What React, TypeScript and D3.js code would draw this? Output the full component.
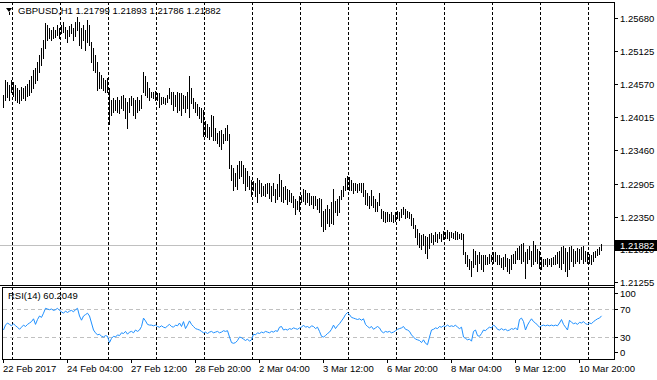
import React from "react";
import * as d3 from "d3";

const symbolName = "GBPUSD,H1";
const lastOHLC = [1.21799, 1.21893, 1.21786, 1.21882];

const highs = [
  1.2439,1.2464,1.2461,1.2456,1.2464,1.2461,1.2456,1.2450,1.2447,1.2452,
  1.2450,1.2454,1.2457,1.2464,1.2471,1.2481,1.2484,1.2494,1.2506,1.2518,
  1.2531,1.2560,1.2556,1.2551,1.2548,1.2553,1.2548,1.2556,1.2551,1.2556,
  1.2561,1.2553,1.2548,1.2555,1.2558,1.2551,1.2561,1.2570,1.2561,1.2551,
  1.2556,1.2548,1.2565,1.2556,1.2528,1.2518,1.2506,1.2494,1.2477,1.2472,
  1.2467,1.2464,1.2467,1.2450,1.2430,1.2434,1.2430,1.2435,1.2430,1.2437,
  1.2439,1.2434,1.2427,1.2434,1.2437,1.2434,1.2430,1.2435,1.2430,1.2439,
  1.2477,1.2471,1.2461,1.2450,1.2444,1.2444,1.2445,1.2442,1.2442,1.2435,
  1.2435,1.2434,1.2439,1.2450,1.2444,1.2444,1.2439,1.2444,1.2442,1.2442,
  1.2439,1.2437,1.2444,1.2471,1.2450,1.2434,1.2427,1.2424,1.2418,1.2417,
  1.2413,1.2396,1.2390,1.2386,1.2405,1.2403,1.2383,1.2376,1.2378,1.2380,
  1.2374,1.2383,1.2388,1.2374,1.2321,1.2316,1.2309,1.2321,1.2329,1.2328,
  1.2321,1.2316,1.2312,1.2304,1.2296,1.2294,1.2291,1.2299,1.2296,1.2291,
  1.2287,1.2289,1.2292,1.2291,1.2286,1.2291,1.2282,1.2289,1.2307,1.2296,
  1.2284,1.2287,1.2282,1.2279,1.2275,1.2269,1.2265,1.2262,1.2270,1.2272,
  1.2282,1.2279,1.2275,1.2274,1.2270,1.2269,1.2270,1.2265,1.2267,1.2265,
  1.2245,1.2248,1.2254,1.2248,1.2259,1.2281,1.2262,1.2265,1.2270,1.2279,
  1.2286,1.2299,1.2303,1.2301,1.2296,1.2292,1.2291,1.2289,1.2291,1.2292,
  1.2292,1.2279,1.2275,1.2270,1.2279,1.2270,1.2264,1.2260,1.2274,1.2248,
  1.2245,1.2242,1.2242,1.2240,1.2242,1.2238,1.2242,1.2245,1.2243,1.2248,
  1.2252,1.2248,1.2245,1.2242,1.2240,1.2233,1.2221,1.2215,1.2208,1.2204,
  1.2206,1.2203,1.2201,1.2206,1.2208,1.2204,1.2209,1.2206,1.2209,1.2206,
  1.2211,1.2209,1.2213,1.2209,1.2209,1.2208,1.2211,1.2209,1.2206,1.2208,
  1.2206,1.2175,1.2171,1.2164,1.2161,1.2181,1.2178,1.2171,1.2175,1.2171,
  1.2170,1.2171,1.2168,1.2173,1.2171,1.2176,1.2175,1.2171,1.2170,1.2166,
  1.2168,1.2173,1.2166,1.2164,1.2171,1.2173,1.2178,1.2183,1.2186,1.2190,
  1.2191,1.2175,1.2181,1.2186,1.2178,1.2195,1.2188,1.2181,1.2178,1.2168,
  1.2164,1.2164,1.2166,1.2164,1.2166,1.2168,1.2170,1.2175,1.2178,1.2185,
  1.2186,1.2183,1.2175,1.2185,1.2186,1.2181,1.2178,1.2183,1.2180,1.2185,
  1.2186,1.2178,1.2175,1.2173,1.2171,1.2175,1.2178,1.2181,1.2185,1.21893,
];

const lows = [
  1.2419,1.2430,1.2435,1.2430,1.2444,1.2437,1.2430,1.2427,1.2425,1.2430,
  1.2434,1.2430,1.2437,1.2439,1.2444,1.2451,1.2459,1.2464,1.2477,1.2489,
  1.2501,1.2518,1.2531,1.2534,1.2531,1.2534,1.2536,1.2539,1.2534,1.2543,
  1.2544,1.2534,1.2528,1.2538,1.2543,1.2531,1.2538,1.2548,1.2523,1.2518,
  1.2531,1.2514,1.2528,1.2523,1.2494,1.2481,1.2477,1.2447,1.2451,1.2451,
  1.2447,1.2444,1.2444,1.2391,1.2405,1.2410,1.2413,1.2410,1.2408,1.2417,
  1.2413,1.2400,1.2383,1.2410,1.2422,1.2405,1.2401,1.2410,1.2413,1.2417,
  1.2444,1.2439,1.2435,1.2430,1.2435,1.2434,1.2430,1.2430,1.2418,1.2424,
  1.2425,1.2424,1.2427,1.2434,1.2424,1.2413,1.2420,1.2410,1.2413,1.2406,
  1.2417,1.2410,1.2417,1.2402,1.2425,1.2417,1.2410,1.2405,1.2400,1.2393,
  1.2371,1.2371,1.2369,1.2366,1.2371,1.2363,1.2363,1.2359,1.2354,1.2349,
  1.2359,1.2363,1.2363,1.2316,1.2296,1.2279,1.2287,1.2282,1.2299,1.2304,
  1.2292,1.2279,1.2287,1.2282,1.2270,1.2279,1.2270,1.2259,1.2275,1.2270,
  1.2272,1.2269,1.2275,1.2267,1.2262,1.2272,1.2259,1.2264,1.2269,1.2262,
  1.2259,1.2265,1.2257,1.2262,1.2259,1.2252,1.2240,1.2248,1.2245,1.2259,
  1.2262,1.2257,1.2259,1.2254,1.2257,1.2250,1.2254,1.2248,1.2242,1.2220,
  1.2211,1.2215,1.2225,1.2220,1.2225,1.2223,1.2242,1.2237,1.2242,1.2265,
  1.2269,1.2279,1.2282,1.2279,1.2279,1.2274,1.2279,1.2277,1.2279,1.2277,
  1.2269,1.2257,1.2254,1.2250,1.2254,1.2252,1.2245,1.2245,1.2254,1.2232,
  1.2228,1.2226,1.2228,1.2227,1.2228,1.2226,1.2228,1.2232,1.2230,1.2235,
  1.2240,1.2233,1.2235,1.2232,1.2221,1.2216,1.2201,1.2190,1.2184,1.2181,
  1.2187,1.2174,1.2166,1.2183,1.2193,1.2190,1.2195,1.2193,1.2199,1.2195,
  1.2197,1.2199,1.2199,1.2196,1.2201,1.2199,1.2197,1.2197,1.2199,1.2197,
  1.2173,1.2158,1.2153,1.2148,1.2136,1.2151,1.2156,1.2144,1.2158,1.2148,
  1.2144,1.2155,1.2156,1.2158,1.2161,1.2158,1.2161,1.2156,1.2155,1.2151,
  1.2148,1.2153,1.2144,1.2141,1.2148,1.2158,1.2158,1.2164,1.2164,1.2158,
  1.2161,1.2133,1.2158,1.2164,1.2153,1.2156,1.2161,1.2158,1.2149,1.2148,
  1.2153,1.2155,1.2153,1.2155,1.2153,1.2156,1.2155,1.2158,1.2151,1.2148,
  1.2158,1.2144,1.2136,1.2148,1.2161,1.2153,1.2158,1.2161,1.2158,1.2164,
  1.2158,1.2161,1.2158,1.2158,1.2156,1.2161,1.2168,1.2170,1.2173,1.21786,
];

const rsiValues = [
  40,47,50,48,46,49,46,44,41,44,
  47,45,48,50,52,56,48,55,60,58,
  64,71,70,69,70,68,69,71,68,66,
  64,67,65,67,68,66,69,71,60,54,
  60,62,64,60,50,40,36,33,34,31,
  30,32,31,22,28,31,30,33,32,36,
  35,38,34,37,38,36,40,38,40,45,
  57,53,48,47,47,46,47,45,44,46,
  44,43,46,48,45,44,47,46,50,45,
  52,42,47,53,48,45,42,41,40,38,
  36,37,35,37,38,36,37,38,36,37,
  39,38,39,30,22,21,22,25,30,29,
  27,25,27,24,26,34,33,36,35,37,
  36,38,37,36,38,37,39,38,44,45,
  40,41,40,42,41,43,42,41,43,44,
  47,44,45,43,46,45,42,44,38,31,
  30,32,35,37,41,47,42,46,49,53,
  57,62,65,62,58,57,56,55,56,54,
  56,48,45,43,45,41,43,45,43,38,
  36,38,37,38,36,37,39,41,42,43,
  45,41,40,38,33,30,27,26,25,22,
  26,21,19,30,40,41,43,42,45,44,
  46,45,47,45,46,45,47,44,42,44,
  30,28,26,27,24,38,40,32,31,35,
  40,39,42,44,43,47,45,41,40,42,
  40,41,39,40,42,41,43,40,55,57,
  52,40,47,52,56,52,50,47,44,46,
  47,46,47,46,47,46,47,46,50,55,
  48,44,40,54,51,49,50,48,51,50,
  52,49,48,50,49,52,54,56,57,60.2049,
];

const priceTicks = [1.2568, 1.25125, 1.2457, 1.24015, 1.2346, 1.22905, 1.2235, 1.2181, 1.21255];
const rsiTicks = [100, 70, 30, 0];
const rsiLevels = [70, 30];
const daySeparatorBars = [4, 28, 52, 76, 100, 124, 148, 172, 196, 220, 244, 268, 292];
const timeLabelBars = [0, 32, 64, 96, 128, 160, 192, 224, 256, 288];
const timeLabels = [
  "22 Feb 2017", "24 Feb 04:00", "27 Feb 12:00", "28 Feb 20:00", "2 Mar 04:00",
  "3 Mar 12:00", "6 Mar 20:00", "8 Mar 04:00", "9 Mar 12:00", "10 Mar 20:00",
];

const W = 657;
const H = 380;
const FONT = "'Liberation Sans', Arial, sans-serif";
const FS = 9.5;

export default function App() {
  const n = highs.length;
  const axisX = 614;
  const mainTop = 2;
  const mainBottom = 285;
  const rsiTop = 287;
  const rsiBottom = 359;

  const x = d3.scaleLinear().domain([0, n - 1]).range([3, 3 + 2 * (n - 1)]);
  const y = d3.scaleLinear().domain([1.21255, 1.2568]).range([282, 18]);
  const yr = d3.scaleLinear().domain([0, 100]).range([358, 288]);

  const rsiLine = d3
    .line<number>()
    .x((_, i) => x(i) + 0.5)
    .y((d) => yr(d));

  const fmt = d3.format(".5f");
  const close = lastOHLC[3];
  const bidY = Math.round(y(close)) + 0.5;
  const boxTop = bidY - 5.5;
  const boxH = 11;

  return (
    <svg
      width={W}
      height={H}
      style={{ position: "fixed", left: 0, top: 0, background: "#fff" }}
      fontFamily={FONT}
      fontSize={FS}
    >
      <defs>
        <clipPath id="belowBox">
          <rect x={axisX + 1} y={boxTop + boxH} width={W - axisX} height={20} />
        </clipPath>
      </defs>
      <rect x={0} y={0} width={W} height={H} fill="#fff" />
      {daySeparatorBars.map((b) => (
        <g key={"g" + b}>
          <line x1={x(b) + 1.5} x2={x(b) + 1.5} y1={mainTop} y2={mainBottom} stroke="#000" strokeDasharray="3,2" />
          <line x1={x(b) + 1.5} x2={x(b) + 1.5} y1={rsiTop} y2={rsiBottom} stroke="#000" strokeDasharray="3,2" />
        </g>
      ))}
      <line x1={0} x2={axisX} y1={bidY} y2={bidY} stroke="#c0c0c0" />
      {highs.map((h, i) => {
        const y1 = Math.round(y(h));
        const y2 = Math.max(Math.round(y(lows[i])), y1 + 1);
        return <line key={"b" + i} x1={x(i) + 0.5} x2={x(i) + 0.5} y1={y1} y2={y2 + 1} stroke="#000" />;
      })}
      <line x1={0} x2={axisX + 0.5} y1={mainTop + 0.5} y2={mainTop + 0.5} stroke="#000" />
      <line x1={0} x2={axisX + 0.5} y1={mainBottom + 0.5} y2={mainBottom + 0.5} stroke="#000" />
      <line x1={axisX + 0.5} x2={axisX + 0.5} y1={mainTop} y2={rsiBottom + 1} stroke="#000" />
      <polygon points="6,8 12,8 9,12" fill="#000" />
      <line x1={9.5} x2={9.5} y1={12} y2={15} stroke="#000" />
      <text x={18} y={14} fill="#000">
        {symbolName + "  " + lastOHLC.map(fmt).join(" ")}
      </text>
      {priceTicks.map((p) => {
        const py = Math.round(y(p)) + 0.5;
        const hidden = py > boxTop && py < boxTop + boxH + 6 && Math.abs(p - close) > 1e-9;
        return (
          <g key={"p" + p}>
            <line x1={axisX} x2={axisX + 4} y1={py} y2={py} stroke="#000" />
            <text x={620} y={py + 3.5} fill="#000" clipPath={hidden ? "url(#belowBox)" : undefined}>
              {fmt(p)}
            </text>
          </g>
        );
      })}
      <rect x={axisX + 1} y={boxTop} width={W - axisX} height={boxH} fill="#000" />
      <text x={620} y={bidY + 3.5} fill="#fff">
        {fmt(close)}
      </text>
      <line x1={2.5} x2={2.5} y1={rsiTop} y2={rsiBottom + 1} stroke="#000" />
      <line x1={2} x2={axisX + 1} y1={rsiTop + 0.5} y2={rsiTop + 0.5} stroke="#000" />
      <line x1={2} x2={axisX + 1} y1={rsiBottom + 0.5} y2={rsiBottom + 0.5} stroke="#000" />
      {rsiLevels.map((lv) => (
        <line
          key={"lv" + lv}
          x1={3}
          x2={axisX}
          y1={Math.round(yr(lv)) + 0.5}
          y2={Math.round(yr(lv)) + 0.5}
          stroke="#c0c0c0"
          strokeDasharray="4,3"
        />
      ))}
      <path d={rsiLine(rsiValues) || ""} fill="none" stroke="#1e90ff" strokeWidth={1} />
      <text x={8} y={299} fill="#000">
        {"RSI(14) " + rsiValues[rsiValues.length - 1].toFixed(4)}
      </text>
      {rsiTicks.map((v) => {
        const ry = Math.min(Math.max(Math.round(yr(v)), rsiTop + 6), rsiBottom - 7) + 0.5;
        return (
          <g key={"r" + v}>
            <line x1={axisX} x2={axisX + 4} y1={ry} y2={ry} stroke="#000" />
            <text x={620} y={ry + 3.5} fill="#000">
              {v}
            </text>
          </g>
        );
      })}
      {timeLabelBars.map((b, k) => (
        <g key={"t" + b}>
          <line x1={x(b) + 0.5} x2={x(b) + 0.5} y1={rsiBottom} y2={rsiBottom + 4} stroke="#000" />
          <text x={x(b)} y={372} fill="#000">
            {timeLabels[k]}
          </text>
        </g>
      ))}
    </svg>
  );
}
